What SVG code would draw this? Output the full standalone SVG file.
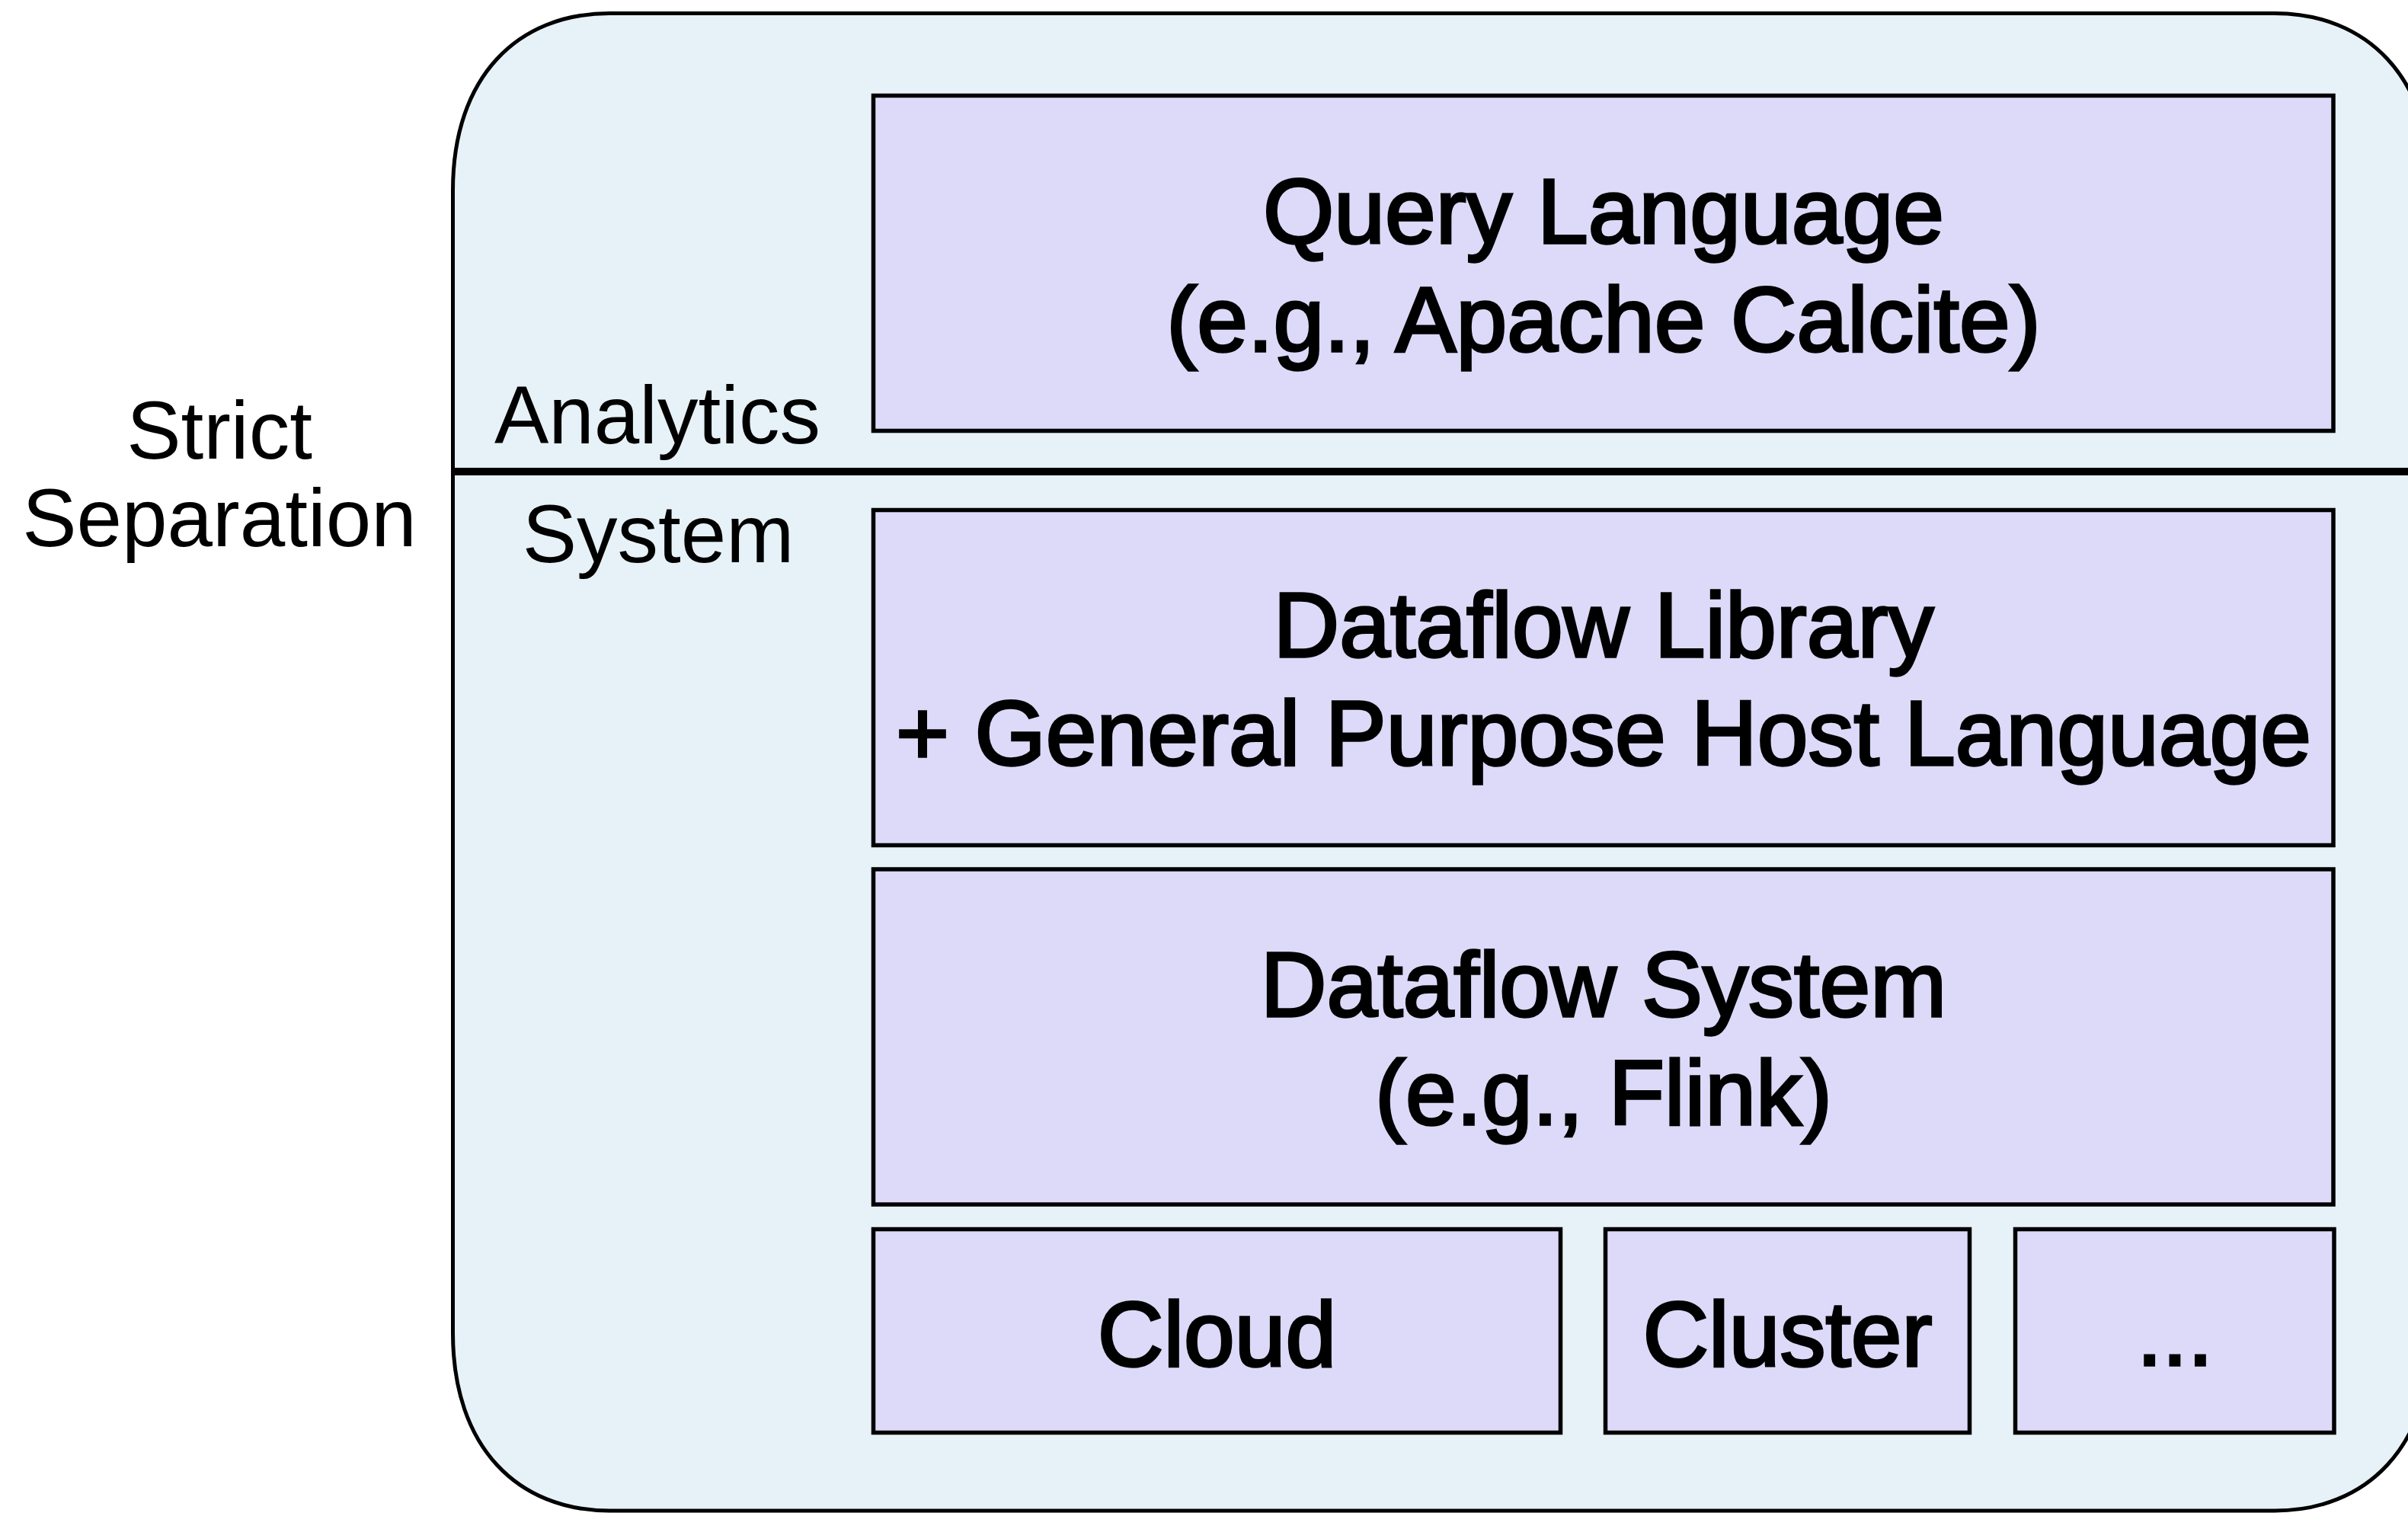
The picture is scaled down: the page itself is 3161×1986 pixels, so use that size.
<svg xmlns="http://www.w3.org/2000/svg" width="3161" height="1986" viewBox="0 0 3161 1986">
  <style>
    .outer { fill: #E6F2F7; stroke: #000; stroke-width: 5; }
    .box { fill: #DCDAF8; stroke: #000; stroke-width: 5.5; }
    .sep { stroke: #000; stroke-width: 10; }
    .bt { font-family: "Liberation Sans", Arial, Helvetica, sans-serif; font-size: 120px; fill: #000; stroke: #000; stroke-width: 3.4; text-anchor: middle; }
    .lt { font-family: "Liberation Sans", Arial, Helvetica, sans-serif; font-size: 107px; fill: #000; text-anchor: middle; }
  </style>
  <rect width="3161" height="1986" fill="#FFFFFF"/>
  <g id="container">
    <path class="outer" d="M 594.5,250 C 594.5,100 680,17.5 800,17.5 L 2986,17.5 C 3106,17.5 3192,100 3192,250 L 3192,1750 C 3192,1900 3106,1983 2986,1983 L 800,1983 C 680,1983 594.5,1900 594.5,1750 Z"/>
  </g>
  <g id="connectors">
    <line class="sep" x1="592" y1="619" x2="3161" y2="619"/>
  </g>
  <g id="label-strict-separation">
    <text class="lt" x="288" y="602">Strict</text>
    <text class="lt" x="288" y="717">Separation</text>
  </g>
  <g id="label-analytics">
    <text class="lt" x="863" y="582">Analytics</text>
  </g>
  <g id="label-system">
    <text class="lt" x="864" y="738">System</text>
  </g>
  <g id="query-language">
    <rect class="box" x="1146.5" y="125.5" width="1916.5" height="440"/>
    <text class="bt" x="2105" y="319">Query Language</text>
    <text class="bt" x="2105" y="461">(e.g., Apache Calcite)</text>
  </g>
  <g id="dataflow-library">
    <rect class="box" x="1146.5" y="669.5" width="1916.5" height="440"/>
    <text class="bt" x="2105" y="862">Dataflow Library</text>
    <text class="bt" x="2105" y="1004">+ General Purpose Host Language</text>
  </g>
  <g id="dataflow-system">
    <rect class="box" x="1146.5" y="1141" width="1916.5" height="440"/>
    <text class="bt" x="2105" y="1334">Dataflow System</text>
    <text class="bt" x="2105" y="1476">(e.g., Flink)</text>
  </g>
  <g id="cloud">
    <rect class="box" x="1146.5" y="1613.5" width="902" height="267"/>
    <text class="bt" x="1597.5" y="1793">Cloud</text>
  </g>
  <g id="cluster">
    <rect class="box" x="2107.5" y="1613.5" width="478" height="267"/>
    <text class="bt" x="2346.5" y="1793">Cluster</text>
  </g>
  <g id="more">
    <rect class="box" x="2645.5" y="1613.5" width="418.5" height="267"/>
    <text class="bt" x="2855" y="1792">...</text>
  </g>
</svg>
